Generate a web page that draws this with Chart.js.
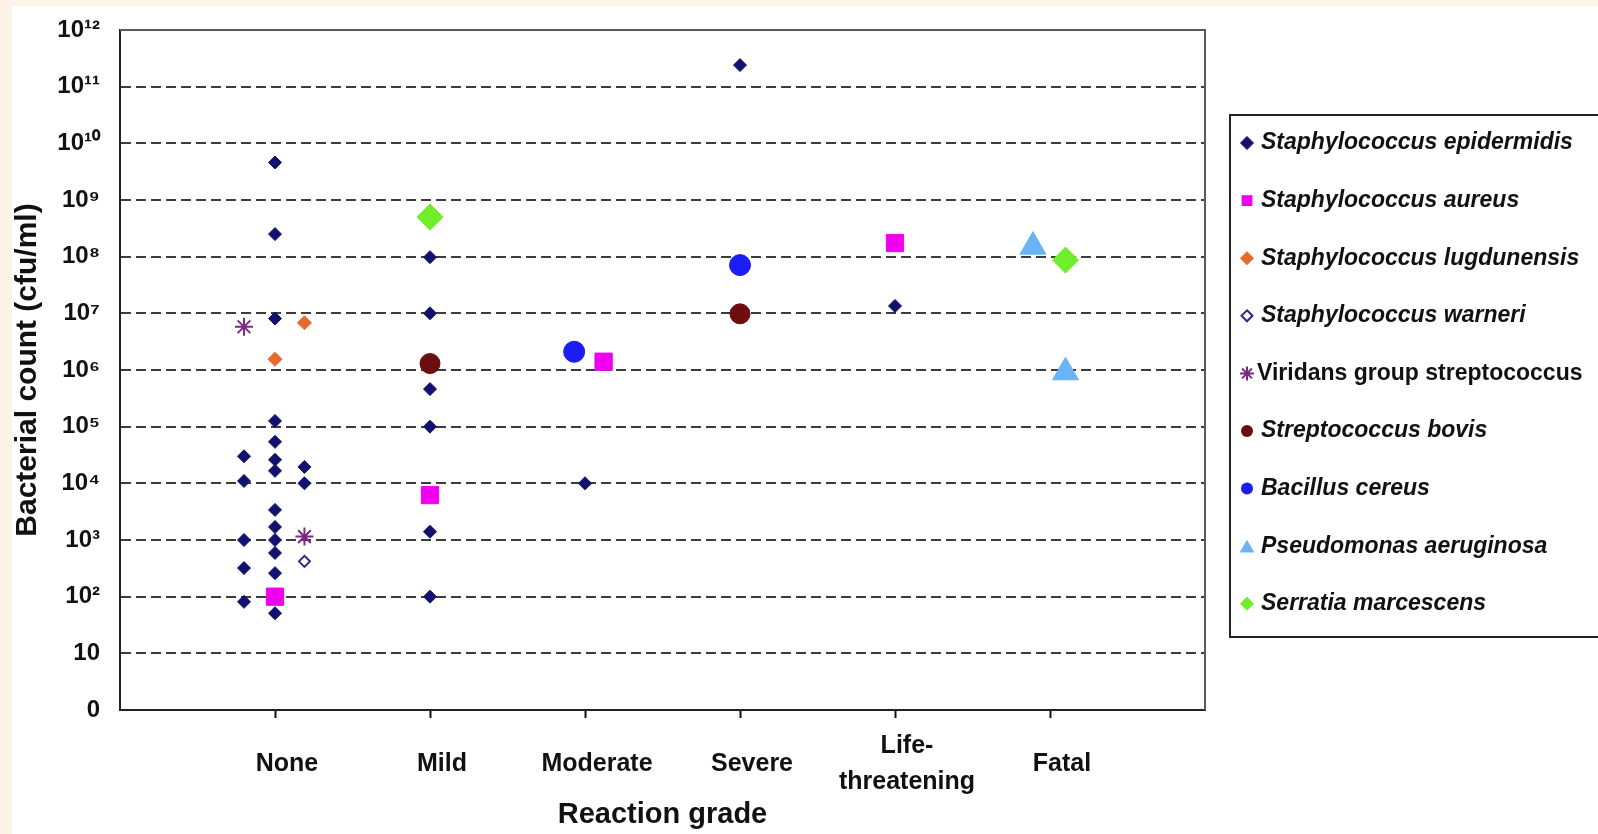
<!DOCTYPE html>
<html><head><meta charset="utf-8">
<script src="https://cdn.jsdelivr.net/npm/chart.js@4.4.1/dist/chart.umd.min.js"></script>
<style>
html,body{margin:0;padding:0;background:#fdf3e7;overflow:hidden;}
canvas{display:block;}
</style></head><body>
<canvas id="c" width="1598" height="834"></canvas>
<script>
// ---------- categories & tick labels ----------
const grades = ['None', 'Mild', 'Moderate', 'Severe', 'Life-threatening', 'Fatal'];
const yTickLabels = ['0', '10', '10²', '10³', '10⁴', '10⁵', '10⁶', '10⁷', '10⁸', '10⁹', '10¹⁰', '10¹¹', '10¹²'];

// ---------- series (grade, bacterial count cfu/ml, side offset within grade) ----------
const epidermidisGrade = ['None','None','None','None','None',
  'None','None','None','None','None','None','None','None','None','None','None','None','None',
  'None','None',
  'Mild','Mild','Mild','Mild','Mild','Mild',
  'Moderate','Severe','Life-threatening'];
const epidermidisCount = [3.0e4, 1.1e4, 1.0e3, 3.2e2, 8.1e1,
  4.6e9, 2.5e8, 8.1e6, 1.26e5, 5.4e4, 2.6e4, 1.66e4, 3.4e3, 1.7e3, 1.0e3, 5.9e2, 2.6e2, 5.1e1,
  1.95e4, 1.0e4,
  9.8e7, 1.0e7, 4.6e5, 1.0e5, 1.4e3, 1.0e2,
  1.0e4, 2.4e11, 1.35e7];
const epidermidisSide = [-0.2,-0.2,-0.2,-0.2,-0.2,
  0,0,0,0,0,0,0,0,0,0,0,0,0,
  0.19,0.19,
  0,0,0,0,0,0,
  0,0,0];

const aureusGrade = ['None', 'Mild', 'Moderate', 'Life-threatening'];
const aureusCount = [1.0e2, 6.2e3, 1.4e6, 1.74e8];
const aureusSide  = [0, 0, 0.12, 0];

const lugdunensisGrade = ['None', 'None'];
const lugdunensisCount = [6.8e6, 1.55e6];
const lugdunensisSide  = [0.19, 0];

const warneriGrade = ['None'];
const warneriCount = [4.2e2];
const warneriSide  = [0.19];

const viridansGrade = ['None', 'None'];
const viridansCount = [5.8e6, 1.15e3];
const viridansSide  = [-0.2, 0.19];

const bovisGrade = ['Mild', 'Severe'];
const bovisCount = [1.3e6, 9.8e6];
const bovisSide  = [0, 0];

const cereusGrade = ['Moderate', 'Severe'];
const cereusCount = [2.1e6, 7.1e7];
const cereusSide  = [-0.07, 0];

const pseudomonasGrade = ['Fatal', 'Fatal'];
const pseudomonasCount = [1.5e8, 9.1e5];
const pseudomonasSide  = [-0.11, 0.1];

const serratiaGrade = ['Mild', 'Fatal'];
const serratiaCount = [5.0e8, 8.7e7];
const serratiaSide  = [0, 0.1];

const speciesNames = ['Staphylococcus epidermidis', 'Staphylococcus aureus', 'Staphylococcus lugdunensis',
  'Staphylococcus warneri', 'Viridans group streptococcus', 'Streptococcus bovis', 'Bacillus cereus',
  'Pseudomonas aeruginosa', 'Serratia marcescens'];

// ---------- build ----------
function pts(gr, cnt, side) {
  return gr.map((g, i) => ({ x: grades.indexOf(g) + 1 + side[i], y: Math.log10(cnt[i]) }));
}
const FONT = '"Liberation Sans", Arial, Helvetica, sans-serif';

const styles = [
  { pointStyle: 'rectRot', radius: 6.5, bg: '#12126e', bc: '#12126e', bw: 1, lr: 6.5 },
  { pointStyle: 'rect', radius: 12.2, bg: '#ee00ee', bc: '#ee00ee', bw: 1, lr: 7.5 },
  { pointStyle: 'rectRot', radius: 7, bg: '#e8692c', bc: '#e8692c', bw: 1, lr: 6.5 },
  { pointStyle: 'rectRot', radius: 5.5, bg: '#ffffff', bc: '#2a2a8a', bw: 2, lr: 5.5 },
  { pointStyle: 'star', radius: 9, bg: '#7d2a84', bc: '#7d2a84', bw: 2, lr: 7 },
  { pointStyle: 'circle', radius: 10, bg: '#6e0d0d', bc: '#6e0d0d', bw: 1, lr: 6 },
  { pointStyle: 'circle', radius: 10.5, bg: '#1c1cf5', bc: '#1c1cf5', bw: 1, lr: 6 },
  { pointStyle: 'triangle', radius: 15, bg: '#6ab4f5', bc: '#6ab4f5', bw: 1, lr: 8.5 },
  { pointStyle: 'rectRot', radius: 13, bg: '#70ee2a', bc: '#70ee2a', bw: 1, lr: 6.5 }
];
const seriesData = [
  pts(epidermidisGrade, epidermidisCount, epidermidisSide),
  pts(aureusGrade, aureusCount, aureusSide),
  pts(lugdunensisGrade, lugdunensisCount, lugdunensisSide),
  pts(warneriGrade, warneriCount, warneriSide),
  pts(viridansGrade, viridansCount, viridansSide),
  pts(bovisGrade, bovisCount, bovisSide),
  pts(cereusGrade, cereusCount, cereusSide),
  pts(pseudomonasGrade, pseudomonasCount, pseudomonasSide),
  pts(serratiaGrade, serratiaCount, serratiaSide)
];
const datasets = speciesNames.map((n, i) => ({
  label: n, data: seriesData[i], showLine: false,
  pointStyle: styles[i].pointStyle, pointRadius: styles[i].radius, pointHoverRadius: styles[i].radius,
  backgroundColor: styles[i].bg, borderColor: styles[i].bc, borderWidth: styles[i].bw
}));

// ---------- plugins ----------
const bgPlugin = {
  id: 'bg',
  beforeDraw(chart) {
    const ctx = chart.ctx;
    ctx.save();
    ctx.fillStyle = '#fdf3e7';
    ctx.fillRect(0, 0, chart.width, chart.height);
    ctx.fillStyle = '#ffffff';
    ctx.fillRect(12, 6, chart.width - 12, chart.height - 6);
    ctx.restore();
  },
  beforeDatasetsDraw(chart) {
    const a = chart.chartArea, ctx = chart.ctx;
    ctx.save();
    ctx.strokeStyle = '#5a5a5a';
    ctx.lineWidth = 2;
    ctx.beginPath();
    ctx.moveTo(a.left, a.top);
    ctx.lineTo(a.right, a.top);
    ctx.lineTo(a.right, a.bottom);
    ctx.stroke();
    ctx.restore();
  }
};

function marker(ctx, st, x, y, r) {
  ctx.save();
  ctx.fillStyle = st.bg; ctx.strokeStyle = st.bc; ctx.lineWidth = st.pointStyle === 'star' || st.bg === '#ffffff' ? 2 : 1;
  ctx.beginPath();
  if (st.pointStyle === 'rectRot') {
    ctx.moveTo(x, y - r); ctx.lineTo(x + r, y); ctx.lineTo(x, y + r); ctx.lineTo(x - r, y); ctx.closePath();
    ctx.fill(); ctx.stroke();
  } else if (st.pointStyle === 'rect') {
    ctx.rect(x - r * 0.72, y - r * 0.72, r * 1.44, r * 1.44); ctx.fill();
  } else if (st.pointStyle === 'circle') {
    ctx.arc(x, y, r, 0, Math.PI * 2); ctx.fill();
  } else if (st.pointStyle === 'triangle') {
    ctx.moveTo(x, y - r); ctx.lineTo(x + r * 0.866, y + r * 0.5); ctx.lineTo(x - r * 0.866, y + r * 0.5); ctx.closePath(); ctx.fill();
  } else if (st.pointStyle === 'star') {
    for (let k = 0; k < 4; k++) {
      const a = k * Math.PI / 4;
      ctx.moveTo(x - Math.cos(a) * r, y - Math.sin(a) * r);
      ctx.lineTo(x + Math.cos(a) * r, y + Math.sin(a) * r);
    }
    ctx.stroke();
  }
  ctx.restore();
}

const legendPlugin = {
  id: 'boxLegend',
  afterDraw(chart) {
    const ctx = chart.ctx;
    ctx.save();
    ctx.strokeStyle = '#222';
    ctx.lineWidth = 2;
    ctx.strokeRect(1230, 115, 400, 522);
    ctx.textBaseline = 'middle';
    ctx.fillStyle = '#111';
    speciesNames.forEach((n, i) => {
      const y = 143 + i * 57.6;
      marker(ctx, styles[i], 1247, y + (styles[i].pointStyle === 'triangle' ? 2 : 0), styles[i].lr);
      ctx.fillStyle = '#111';
      const italic = n.indexOf('Viridans') === 0 ? '' : 'italic ';
      ctx.font = italic + 'bold 23px ' + FONT;
      ctx.fillText(n, italic ? 1261 : 1257, y);
    });
    ctx.restore();
  }
};

new Chart(document.getElementById('c'), {
  type: 'scatter',
  data: { datasets },
  plugins: [bgPlugin, legendPlugin],
  options: {
    responsive: false,
    animation: false,
    events: [],
    layout: { padding: { left: 0, top: 30, right: 393, bottom: 0 } },
    plugins: { legend: { display: false }, tooltip: { enabled: false } },
    scales: {
      x: {
        type: 'linear', min: 0, max: 7,
        afterBuildTicks: s => { s.ticks = grades.map((g, i) => ({ value: i + 1 })); },
        afterFit: s => { s.height = 124; s.paddingLeft = 0; s.paddingRight = 0; },
        ticks: {
          autoSkip: false, maxRotation: 0, minRotation: 0,
          callback: (v, i) => grades[i] === 'Life-threatening' ? ['Life-', 'threatening'] : grades[i],
          labelOffset: 12, padding: 28, crossAlign: 'center',
          color: '#111', font: { family: FONT, size: 25, weight: 'bold', lineHeight: 1.44 }
        },
        grid: { drawOnChartArea: false, drawTicks: true, tickLength: 8, tickColor: '#111', tickWidth: 2 },
        border: { display: true, color: '#222', width: 2 },
        title: { display: true, text: 'Reaction grade', color: '#111',
          font: { family: FONT, size: 29, weight: 'bold' }, padding: { top: 0, bottom: 2 } }
      },
      y: {
        type: 'linear', min: 0, max: 12,
        afterBuildTicks: s => { s.ticks = yTickLabels.map((t, i) => ({ value: i })); },
        afterFit: s => { s.width = 120; s.paddingTop = 0; s.paddingBottom = 0; },
        ticks: {
          autoSkip: false, padding: 20,
          callback: (v, i) => yTickLabels[i],
          color: '#111', font: { family: FONT, size: 24, weight: 'bold' }
        },
        grid: {
          drawTicks: false, lineWidth: 2,
          color: c => (c.tick && (c.tick.value === 0 || c.tick.value === 12)) ? 'rgba(0,0,0,0)' : '#3c3c3c'
        },
        border: { display: true, color: '#222', width: 2, dash: [10, 5] },
        title: { display: true, text: 'Bacterial count (cfu/ml)', color: '#111',
          font: { family: FONT, size: 30, weight: 'bold' }, padding: { top: 10, bottom: 0 } }
      }
    }
  }
});
</script>
</body></html>
